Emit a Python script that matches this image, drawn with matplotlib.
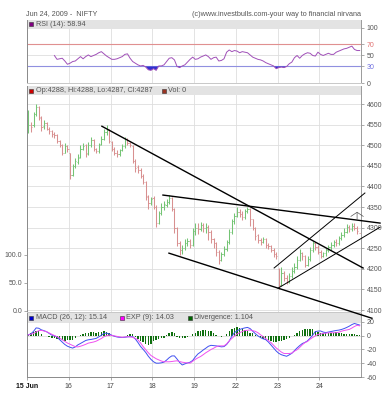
import matplotlib
matplotlib.use("Agg")
import matplotlib.pyplot as plt
import numpy as np
from matplotlib.patches import Rectangle

plt.rcParams['font.family'] = ['Liberation Sans', 'DejaVu Sans']
plt.rcParams['axes.unicode_minus'] = False

day_labels = ["15 Jun", "16", "17", "18", "19", "22", "23", "24"]
bars_per_day = 16

# 15-min-ish OHLC bars, 16 per day
opens = [4532, 4550, 4548, 4575, 4592, 4566, 4546, 4554, 4540, 4535, 4528, 4524, 4510, 4500, 4482, 4497,
         4480, 4428, 4450, 4460, 4472, 4492, 4500, 4480, 4500, 4512, 4490, 4486, 4502, 4515, 4532, 4538,
         4508, 4490, 4482, 4478, 4488, 4497, 4515, 4505, 4498, 4462, 4446, 4440, 4426, 4410, 4376, 4360,
         4372, 4350, 4312, 4335, 4350, 4356, 4362, 4372, 4345, 4300, 4262, 4245, 4250, 4262, 4268, 4258,
         4292, 4300, 4296, 4306, 4298, 4302, 4290, 4272, 4262, 4240, 4222, 4235, 4248, 4265, 4290, 4315,
         4328, 4338, 4332, 4325, 4340, 4345, 4320, 4300, 4282, 4270, 4265, 4272, 4258, 4255, 4245, 4236,
         4200, 4160, 4190, 4178, 4168, 4182, 4195, 4205, 4222, 4238, 4230, 4210, 4225, 4245, 4262, 4252,
         4242, 4232, 4238, 4246, 4252, 4258, 4265, 4262, 4275, 4282, 4290, 4302, 4296, 4305, 4300, 4288]
highs = [4586, 4556, 4580, 4600, 4595, 4570, 4562, 4556, 4545, 4538, 4532, 4528, 4512, 4502, 4506, 4500,
         4482, 4455, 4468, 4478, 4500, 4506, 4504, 4508, 4520, 4514, 4494, 4505, 4522, 4540, 4549, 4540,
         4510, 4496, 4488, 4492, 4502, 4520, 4518, 4508, 4500, 4466, 4452, 4444, 4430, 4412, 4380, 4374,
         4376, 4355, 4340, 4360, 4364, 4370, 4380, 4374, 4348, 4302, 4268, 4258, 4272, 4276, 4272, 4298,
         4312, 4310, 4314, 4312, 4310, 4306, 4294, 4276, 4266, 4246, 4240, 4256, 4270, 4296, 4320, 4335,
         4350, 4345, 4340, 4346, 4350, 4348, 4322, 4302, 4285, 4275, 4278, 4275, 4262, 4258, 4250, 4240,
         4202, 4205, 4195, 4185, 4190, 4205, 4215, 4230, 4248, 4242, 4234, 4232, 4252, 4268, 4265, 4258,
         4246, 4242, 4250, 4258, 4264, 4270, 4272, 4280, 4290, 4298, 4308, 4306, 4310, 4312, 4304, 4288]
lows = [4530, 4532, 4545, 4570, 4562, 4535, 4540, 4536, 4528, 4520, 4518, 4505, 4495, 4476, 4480, 4484,
        4418, 4425, 4445, 4455, 4468, 4488, 4472, 4476, 4495, 4486, 4480, 4482, 4500, 4512, 4525, 4505,
        4486, 4476, 4472, 4474, 4485, 4494, 4500, 4496, 4458, 4436, 4432, 4420, 4405, 4368, 4345, 4355,
        4345, 4302, 4308, 4330, 4342, 4350, 4358, 4340, 4288, 4255, 4233, 4236, 4245, 4255, 4250, 4255,
        4282, 4285, 4292, 4290, 4288, 4270, 4262, 4250, 4230, 4212, 4218, 4230, 4244, 4260, 4285, 4308,
        4325, 4325, 4318, 4322, 4335, 4305, 4295, 4270, 4262, 4258, 4262, 4250, 4248, 4240, 4228, 4225,
        4150, 4158, 4170, 4162, 4165, 4178, 4190, 4200, 4218, 4222, 4205, 4208, 4220, 4240, 4245, 4235,
        4226, 4228, 4232, 4240, 4246, 4252, 4255, 4258, 4270, 4278, 4286, 4290, 4292, 4295, 4285, 4287]
closes = [4550, 4545, 4575, 4592, 4568, 4545, 4555, 4540, 4535, 4528, 4524, 4510, 4500, 4482, 4498, 4490,
          4428, 4450, 4462, 4470, 4492, 4498, 4478, 4500, 4512, 4490, 4485, 4500, 4515, 4532, 4538, 4510,
          4490, 4482, 4478, 4488, 4498, 4515, 4505, 4500, 4462, 4445, 4440, 4425, 4410, 4375, 4360, 4370,
          4350, 4312, 4335, 4350, 4358, 4362, 4372, 4345, 4300, 4262, 4245, 4250, 4262, 4268, 4258, 4292,
          4300, 4296, 4306, 4298, 4302, 4290, 4272, 4262, 4240, 4222, 4235, 4248, 4265, 4290, 4315, 4328,
          4338, 4332, 4325, 4340, 4345, 4320, 4300, 4280, 4270, 4265, 4272, 4258, 4255, 4245, 4235, 4230,
          4160, 4190, 4178, 4168, 4182, 4195, 4205, 4222, 4238, 4230, 4210, 4225, 4245, 4262, 4252, 4242,
          4232, 4238, 4246, 4252, 4258, 4265, 4262, 4275, 4282, 4290, 4302, 4296, 4305, 4300, 4292, 4287]

rsi_start = 10
rsi = [50, 43, 44, 45, 40, 34, 36, 39, 40, 44,
       48, 44, 48, 51, 48, 50, 52, 55, 57, 53,
       49, 46, 43, 43, 44, 46, 48, 52, 53, 45,
       39, 36, 33, 31, 32, 29, 24, 23, 26, 23,
       31, 31, 33, 39, 45, 46, 42, 30, 28, 31,
       33, 38, 43, 47, 43, 44, 47, 49, 51, 48,
       43, 46, 47, 40, 41, 44, 56, 60, 57, 59,
       58, 55, 57, 56, 55, 51, 47, 45, 43, 42,
       40, 37, 35, 33, 31, 26, 28, 29, 28, 30,
       35, 38, 46, 50, 45, 50, 53, 55, 54, 50,
       49, 56, 52, 50, 52, 54, 52, 52, 56, 58,
       60, 62, 63, 65, 67, 61, 59, 59]

macd = [1, 2.5, 6, 11, 10.5, 8.2, 7, 5.5, 3, 0.6, -0.6, -2, -6, -9.5, -13, -15.5,
        -17, -18.2, -16.5, -13.5, -11.5, -9.3, -7.2, -6.2, -5.7, -5, -4.2, -2, 0.4, 3, 3.5, 2.3,
        0.4, -1.1, -2.1, -2.7, -2.9, -2.6, -1.9, -1.7, -1.7, -5, -10, -15.8, -20, -24.5, -30, -34.5,
        -38, -40, -40, -39.5, -38.5, -35.5, -32, -29.5, -29.5, -34, -39, -42.6, -41, -39.7, -38.6, -36,
        -31, -26.7, -24, -21, -18.4, -15.6, -14.2, -14.6, -15, -15.6, -16.4, -16, -13, -8, -1, 4.2,
        6.8, 8.7, 10, 11, 11.7, 10, 6.4, 2.6, -0.5, -3, -4.8, -6, -9.4, -13.8, -18, -22.4,
        -25.8, -27.8, -29, -30, -28, -25.7, -21.8, -18, -14.6, -11.6, -10, -7.7, -3.9, 0.7, 5.6, 6.4,
        6.6, 5, 4.2, 5, 5.9, 6.6, 7.3, 7.8, 8.7, 10, 11.6, 13.5, 15.8, 17.4, 16.3, 15.1]
exp9 = [0.7, 1.9, 3.1, 5.1, 7, 7.5, 6.5, 5.5, 3.7, 1.8, -0.1, -1.9, -3.7, -6.1, -8.6, -10.9,
        -12.6, -14.4, -16.1, -16.5, -15.5, -14.2, -12.7, -11, -10.2, -9.4, -8.2, -6.3, -4.3, -1.7, -0.2, 0.5,
        0.2, -0.5, -1.3, -2.1, -2.5, -2.2, -1.8, -2, -2.5, -4.2, -6.2, -10.7, -16, -20.5, -25, -28.9,
        -31.3, -33.6, -35.3, -36.9, -38, -38, -38, -37.6, -37, -36.6, -37.6, -38.6, -39.2, -39.6, -40, -37.2,
        -34.5, -32.3, -30.4, -27.8, -25, -22.6, -20.3, -18.4, -16.3, -15, -15, -15, -12.2, -7.7, -4.2, -0.8,
        2.3, 4, 5.8, 7.2, 7.6, 8, 7, 6, 4, 1, -1.6, -4.4, -7.3, -10.2, -14, -18,
        -21, -24, -26, -26, -26, -25.4, -22.6, -20.6, -17.2, -13.4, -10.3, -8.6, -5.3, -2.8, -0.5, 1.5,
        2.1, 3, 3.4, 3.8, 4, 4, 4, 4.8, 6.2, 7.2, 8, 8.8, 10.8, 13.1, 14.8, 14]
divergence = [1, 3, 5, 7, 6, 2, 0, -1, -2, -3, -4, -5, -6, -7, -7.5, -7,
              -7, -6, -4, -1, 1, 2, 3, 4, 4.5, 4.5, 4, 4.5, 5, 6, 5, 3,
              1, -0.5, -1, -1, -1, -0.5, 1, 2, 1.5, -2, -5, -8, -10, -12, -14, -12,
              -8, -6, -5, -4, -3, 1, 4, 5.5, 4, -2, -4, -4, -3, -2, 0, 2,
              4, 6, 7, 8, 8, 7, 6, 4, 1, -1, -2, -1, 2, 6, 9, 11,
              12, 11.5, 10, 8, 6, 4, 3, 1, -1, -3, -5, -6, -7, -8, -9, -9,
              -8.5, -8, -7, -5, -3, -1, 1, 4, 6, 8, 9, 10, 10, 9, 7, 5,
              4, 3.5, 3, 3, 3, 4, 4.5, 4, 3, 2, 2.5, 2, 2, 1.5, 1.2, 1.1]

# hand-drawn trend lines: (bar, price) -> (bar, price)
trend_lines = [((28.7, 4546), (128.8, 4202)),
               ((52.1, 4379), (135.3, 4311)),
               ((54.4, 4238), (132.2, 4080)),
               ((94.7, 4202), (129.5, 4384)),
               ((96.2, 4153), (135.3, 4301))]
trend_widths = [1.0, 1.0, 1.0, 0.7, 0.7]

n = len(closes)
x = np.arange(n) + 0.5
day_pos = np.arange(len(day_labels)) * bars_per_day

W, H = 386, 400
def box(x0, y0, x1, y1):
    return [x0 / W, 1 - y1 / H, (x1 - x0) / W, (y1 - y0) / H]

def fx(px):
    return px / W

def fy(py):
    return 1 - py / H

fig = plt.figure(figsize=(3.86, 4.0), dpi=100)
ax_rsi = fig.add_axes(box(27, 20, 361, 83))
ax_vol = fig.add_axes(box(27, 86, 361, 312))
ax = fig.add_axes(box(27, 86, 361, 312))
ax_macd = fig.add_axes(box(27, 312, 361, 377))

def style(a, head):
    a.set_xlim(0, n)
    a.spines['top'].set_visible(False)
    a.spines['left'].set_color('#8a8a8a')
    a.spines['right'].set_color('#9a9a9a')
    a.spines['bottom'].set_color('#c8c8c8')
    for s in a.spines.values():
        s.set_linewidth(0.7)
    a.yaxis.tick_right()
    a.tick_params(axis='y', direction='out', length=2.5, width=0.5, colors='#888888',
                  labelsize=5, labelcolor='#555555', pad=1.5)
    a.set_xticks(day_pos)
    a.tick_params(axis='x', length=0, labelbottom=False)
    a.grid(True, color='#dedede', lw=0.6)
    a.set_axisbelow(True)
    a.add_patch(Rectangle((0, 1 - head), 1, head, transform=a.transAxes,
                          facecolor='#e3e3e3', edgecolor='none', zorder=1))

# RSI panel
style(ax_rsi, 9 / 63)
ax_rsi.set_ylim(0, 114.5)
ax_rsi.set_yticks([0, 30, 50, 70, 100])
ax_rsi.axhline(70, color='#e09090', lw=0.8, zorder=1.5)
ax_rsi.axhline(30, color='#9090e0', lw=0.8, zorder=1.5)
for lab in ax_rsi.get_yticklabels():
    if lab.get_text() == '70':
        lab.set_color('#e07070')
    elif lab.get_text() == '30':
        lab.set_color('#7070e0')
xr = np.arange(rsi_start, rsi_start + len(rsi)) + 0.5
rv = np.array(rsi, dtype=float)
ax_rsi.fill_between(xr, rv, 30, where=rv < 30, interpolate=True, color='#3030d0', lw=0, zorder=2)
ax_rsi.plot(xr, rv, color='#a050b8', lw=0.7, zorder=3)

# volume scale (left side, no volume data)
ax_vol.set_xlim(0, n)
ax_vol.set_ylim(-1.8, 401.8)
ax_vol.set_yticks([0, 50, 100])
ax_vol.set_yticklabels(['0.0', '50.0', '100.0'])
ax_vol.set_xticks([])
ax_vol.tick_params(axis='y', direction='out', length=2, width=0.5, colors='#888888',
                   labelsize=5, labelcolor='#555555', pad=1.5)
for s in ax_vol.spines.values():
    s.set_visible(False)
ax_vol.patch.set_visible(False)

# price panel
style(ax, 9 / 226)
ax.set_ylim(4095.2, 4643.7)
ax.set_yticks(np.arange(4100, 4601, 50))
o = np.array(opens); c = np.array(closes)
cols = np.where(c >= o, '#74c474', '#d89090')
ax.vlines(x, lows, highs, colors=cols, lw=0.75, zorder=2)
ax.hlines(opens, x - 0.45, x, colors=cols, lw=0.6, zorder=2)
ax.hlines(closes, x, x + 0.45, colors=cols, lw=0.6, zorder=2)
for (p0, p1), w in zip(trend_lines, trend_widths):
    ax.plot([p0[0], p1[0]], [p0[1], p1[1]], color='black', lw=w, clip_on=False, zorder=4)
ax.annotate('', xy=(126.5, 4345), xytext=(126.5, 4314),
            arrowprops=dict(arrowstyle='->,head_length=0.3,head_width=0.45', color='#555555', lw=0.5))
ax.set_zorder(5)
ax.patch.set_visible(False)

# MACD panel
style(ax_macd, 10 / 65)
ax_macd.set_ylim(-60, 34)
ax_macd.set_yticks([-60, -40, -20, 0, 20])
ax_macd.bar(x, divergence, width=0.55, color='#107010', zorder=2)
ax_macd.plot(x, macd, color='#4050f0', lw=0.7, zorder=3)
ax_macd.plot(x, exp9, color='#f050f0', lw=0.7, zorder=3)
ax_macd.spines['bottom'].set_color('#8a8a8a')
ax_macd.tick_params(axis='x', length=2, width=0.5, colors='#888888', labelbottom=True,
                    labelsize=5, labelcolor='#444444', pad=2)
ax_macd.set_xticklabels(day_labels)
ax_macd.get_xticklabels()[0].set_fontweight('bold')
ax_macd.get_xticklabels()[0].set_color('#111111')

# captions and panel headers
fig.text(fx(26), fy(14), "Jun 24, 2009 -  NIFTY", fontsize=5.2, color='#555555', va='center')
fig.text(fx(361), fy(14), "(c)www.investbulls.com-your way to financial nirvana",
         fontsize=5.2, color='#555555', va='center', ha='right')

headers = [(29.5, 24, '#800080', "RSI (14): 58.94"),
           (29.5, 90.5, '#cc0000', "Op:4288, Hi:4288, Lo:4287, Cl:4287"),
           (162, 90.5, '#993322', "Vol: 0"),
           (29.5, 317.5, '#0000cc', "MACD (26, 12): 15.14"),
           (119.5, 317.5, '#ff00ff', "EXP (9): 14.03"),
           (187.5, 317.5, '#006600', "Divergence: 1.104")]
for px, py, col, label in headers:
    fig.add_artist(Rectangle((fx(px), fy(py + 2)), 4 / W, 4 / H, transform=fig.transFigure,
                             facecolor=col, edgecolor='#333333', lw=0.4, zorder=10))
    fig.text(fx(px + 6.5), fy(py), label, fontsize=5.2, color='#555555', va='center', zorder=10)

fig.savefig("out.png", dpi=100)
